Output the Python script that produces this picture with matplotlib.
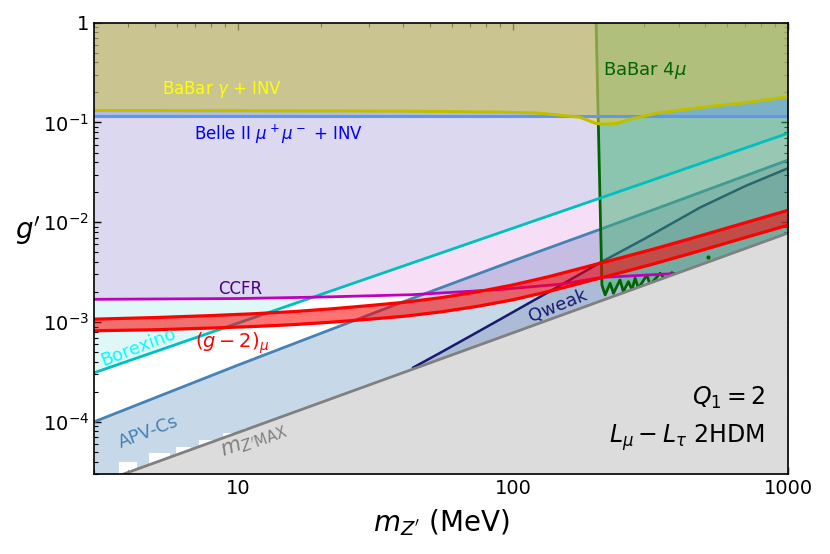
import numpy as np
import matplotlib
matplotlib.use("Agg")
import matplotlib.pyplot as plt
from matplotlib.ticker import FuncFormatter, NullFormatter, LogLocator

# --- Limits (m in MeV, g' dimensionless) ---
# BaBar gamma + INV
babar_x = [3, 40, 90, 125, 175, 200, 215, 240, 260, 334, 508, 700, 1000]
babar_g = [0.132, 0.130, 0.127, 0.124, 0.113, 0.098, 0.096, 0.098, 0.106, 0.124, 0.144, 0.158, 0.181]

# Belle II mu+mu- + INV
belle_x = [3, 1000]
belle_g = [0.116, 0.116]

# BaBar 4mu (vertical edge + jagged lower boundary)
b4mu_x = [200.6, 210.6, 216.4, 225.6, 232, 245, 252, 263, 271, 278, 286, 307, 315, 343, 358, 378, 390]
b4mu_g = [1.0, 2.35e-3, 1.87e-3, 2.45e-3, 1.94e-3, 2.64e-3, 2.02e-3, 2.54e-3, 2.10e-3,
          2.75e-3, 2.18e-3, 2.96e-3, 2.35e-3, 3.08e-3, 2.64e-3, 3.13e-3, 3.0e-3]

# Borexino
borex_x = [3, 40, 1000]
borex_g = [3.1e-4, 3.65e-3, 7.8e-2]

# CCFR
ccfr_x = [3, 10, 20, 43, 90, 150, 210, 300, 380]
ccfr_g = [1.69e-3, 1.72e-3, 1.78e-3, 1.88e-3, 2.12e-3, 2.4e-3, 2.8e-3, 2.95e-3, 3.05e-3]

# APV-Cs
apv_x = [3, 10, 40, 100, 210, 1000]
apv_g = [1.0e-4, 3.7e-4, 1.6e-3, 4.1e-3, 8.6e-3, 4.2e-2]
# white gaps left at the lower edge of the APV band
apv_gap_x0 = [3.7, 4.75, 5.94, 7.2, 8.8, 10.5]
apv_gap_x1 = [4.31, 5.68, 6.75, 8.2, 9.7, 11.7]
apv_gap_top = [4.0e-5, 4.84e-5, 5.65e-5, 6.59e-5, 7.7e-5, 8.6e-5]

# Qweak
qweak_x = [43.4, 55, 70, 90, 115, 145, 175, 210.6, 300, 480, 700, 1000]
qweak_g = [3.5e-4, 5.0e-4, 7.24e-4, 1.067e-3, 1.563e-3, 2.24e-3, 3.01e-3, 4.03e-3,
           6.8e-3, 1.41e-2, 2.31e-2, 3.48e-2]

# (g-2)_mu band
gm2_x = [3, 5, 8, 11.4, 16, 22, 30, 40, 55, 75, 100, 135, 180, 240, 320, 450, 650, 1000]
gm2_hi = [1.069e-3, 1.109e-3, 1.161e-3, 1.211e-3, 1.274e-3, 1.358e-3, 1.462e-3, 1.574e-3,
          1.758e-3, 2.018e-3, 2.355e-3, 2.851e-3, 3.508e-3, 4.315e-3, 5.333e-3, 6.950e-3,
          9.333e-3, 1.318e-2]
gm2_lo = [8.18e-4, 8.37e-4, 8.71e-4, 9.02e-4, 9.43e-4, 9.98e-4, 1.067e-3, 1.141e-3,
          1.266e-3, 1.443e-3, 1.672e-3, 2.024e-3, 2.491e-3, 3.064e-3, 3.786e-3, 4.934e-3,
          6.626e-3, 9.358e-3]

# m_Z' max
mmax_x = [3, 1000]
mmax_g = [2.34e-5, 7.8e-3]

FLOOR = 1e-6

fig = plt.figure(figsize=(8.3, 5.54), dpi=100)
ax = fig.add_axes([0.1133, 0.1444, 0.8361, 0.8146])
ax.set_xscale("log")
ax.set_yscale("log")

# --- fills (drawn bottom-up) ---
ax.fill_between(apv_x, FLOOR, apv_g, color="steelblue", alpha=0.3, lw=0, zorder=1)
for x0, x1, top in zip(apv_gap_x0, apv_gap_x1, apv_gap_top):
    ax.fill_between([x0, x1], FLOOR, [top, top], color="white", lw=0, zorder=1.05)
ax.fill_between(qweak_x, FLOOR, qweak_g, color="midnightblue", alpha=0.15, lw=0, zorder=1.1)
ax.fill_between(borex_x, borex_g, 1, color="c", alpha=0.12, lw=0, zorder=1.2)
# CCFR region continues under the m_Z' max band
ax.fill_between(ccfr_x + [1000], ccfr_g + [ccfr_g[-1]], 1, color="m", alpha=0.125,
                lw=0, zorder=1.3)

ax.plot(apv_x, apv_g, color="steelblue", lw=2, zorder=2)
ax.plot(qweak_x, qweak_g, color="midnightblue", lw=1.8, zorder=2)

# BaBar 4mu
ax.fill(b4mu_x + [1000, 1000], b4mu_g + [7.0e-3, 1.0], color="mediumseagreen",
        alpha=0.5, lw=0, zorder=3)
ax.plot(b4mu_x, b4mu_g, color="darkgreen", lw=2, zorder=3.1)
ax.plot([513], [4.5e-3], "o", color="darkgreen", ms=2, zorder=3.1)

ax.fill_between(belle_x, belle_g, 1, color="cornflowerblue", alpha=0.4, lw=0, zorder=3.5)
ax.fill_between(babar_x, babar_g, 1, color="#EECF2B", alpha=0.48, lw=0, zorder=3.6)

ax.plot(borex_x, borex_g, color="c", lw=2, zorder=4)
ax.plot(ccfr_x, ccfr_g, color="m", lw=2, zorder=4)
ax.plot(belle_x, belle_g, color="cornflowerblue", lw=2.2, zorder=4)
ax.plot(babar_x, babar_g, color="y", lw=2.2, zorder=4.1)

# (g-2)_mu
ax.fill_between(gm2_x, gm2_lo, gm2_hi, color="red", alpha=0.55, lw=0, zorder=5)
ax.plot(gm2_x, gm2_hi, color="red", lw=2.3, zorder=5.1)
ax.plot(gm2_x, gm2_lo, color="red", lw=2.3, zorder=5.1)

# m_Z' max
ax.fill_between(mmax_x, FLOOR, mmax_g, color="gainsboro", lw=0, zorder=6)
ax.plot(mmax_x, mmax_g, color="gray", lw=2, zorder=6.1)

# --- labels on the plot ---
ax.text(8.8, 0.212, r"BaBar $\gamma$ + INV", color="yellow", fontsize=12,
        ha="center", va="center", zorder=7)
ax.text(14.1, 0.0767, r"Belle II $\mu^+\mu^-$ + INV", color="blue", fontsize=12,
        ha="center", va="center", zorder=7)
ax.text(213, 0.33, r"BaBar 4$\mu$", color="darkgreen", fontsize=13,
        ha="left", va="center", zorder=7)
ax.text(10.2, 2.14e-3, "CCFR", color="indigo", fontsize=12,
        ha="center", va="center", zorder=7)
ax.text(4.34, 5.58e-4, "Borexino", color="cyan", fontsize=13, rotation=21,
        rotation_mode="anchor", ha="center", va="center", zorder=7)
ax.text(9.55, 6.16e-4, r"$(g-2)_\mu$", color="red", fontsize=14,
        ha="center", va="center", zorder=7)
ax.text(4.75, 7.98e-5, "APV-Cs", color="steelblue", fontsize=13, rotation=21,
        rotation_mode="anchor", ha="center", va="center", zorder=7)
ax.text(11.4, 6.5e-5, r"$m_{Z'\mathrm{MAX}}$", color="gray", fontsize=15, rotation=20,
        rotation_mode="anchor", ha="center", va="center", zorder=7)
ax.text(146, 1.46e-3, "Qweak", color="midnightblue", fontsize=13, rotation=22,
        rotation_mode="anchor", ha="center", va="center", zorder=7)
ax.text(0.968, 0.168, r"$Q_1 = 2$", transform=ax.transAxes, fontsize=17,
        ha="right", va="center", zorder=7)
ax.text(0.966, 0.080, r"$L_\mu - L_\tau$ 2HDM", transform=ax.transAxes, fontsize=17,
        ha="right", va="center", zorder=7)

# --- axes ---
ax.set_xlim(3, 1000)
ax.set_ylim(3e-5, 1)

ax.xaxis.set_major_locator(LogLocator(base=10))
ax.xaxis.set_major_formatter(FuncFormatter(lambda v, p: "%d" % round(v)))
ax.xaxis.set_minor_formatter(NullFormatter())
ax.yaxis.set_major_formatter(FuncFormatter(
    lambda v, p: "1" if abs(v - 1) < 1e-9 else r"$10^{%d}$" % round(np.log10(v))))
ax.yaxis.set_minor_formatter(NullFormatter())

ax.tick_params(which="both", direction="in", top=True, right=True, labelsize=14)
ax.tick_params(which="major", length=5, width=1)
ax.tick_params(which="minor", length=3, width=0.8)
for sp in ax.spines.values():
    sp.set_linewidth(1.2)
    sp.set_zorder(10)

ax.set_xlabel(r"$m_{Z'}$ (MeV)", fontsize=20, va="center")
ax.xaxis.set_label_coords(0.5, -0.108)
ax.set_ylabel(r"$g'$", fontsize=20, rotation=0, ha="center", va="center")
ax.yaxis.set_label_coords(-0.095, 0.54)

fig.savefig("out.png", dpi=100, facecolor="white")
